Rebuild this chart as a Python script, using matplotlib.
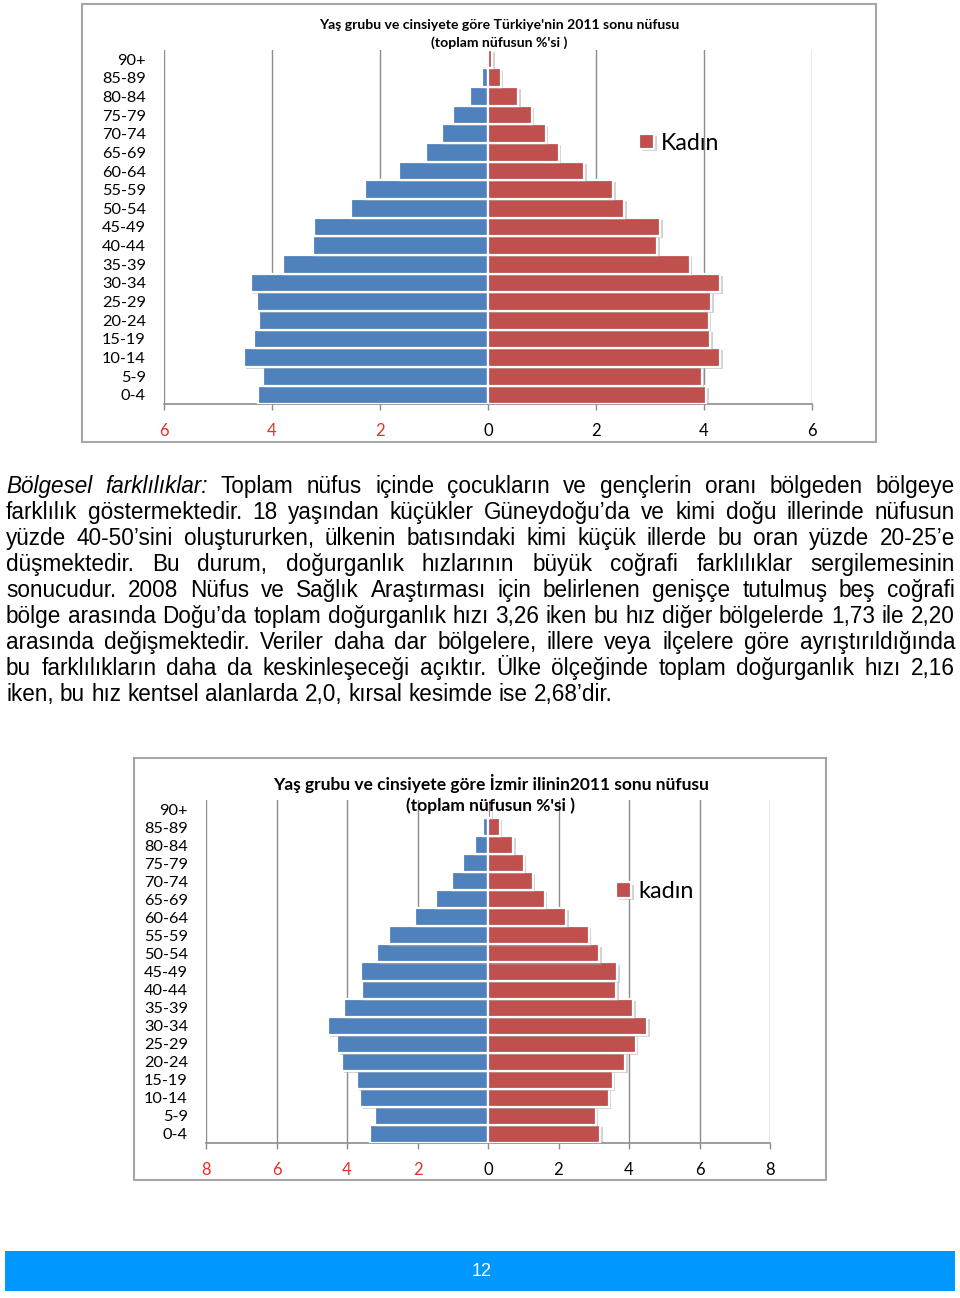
import matplotlib
matplotlib.use("Agg")
import matplotlib.pyplot as plt
import matplotlib.patheffects as pe
from matplotlib.patches import Rectangle

# ---------------- data ----------------
age_groups = ['0-4', '5-9', '10-14', '15-19', '20-24', '25-29', '30-34', '35-39',
              '40-44', '45-49', '50-54', '55-59', '60-64', '65-69', '70-74',
              '75-79', '80-84', '85-89', '90+']

tr_male = [4.26, 4.17, 4.52, 4.33, 4.24, 4.28, 4.39, 3.80, 3.24, 3.22,
           2.54, 2.28, 1.65, 1.15, 0.85, 0.65, 0.33, 0.11, 0.03]
tr_female = [4.04, 3.96, 4.30, 4.12, 4.09, 4.13, 4.30, 3.74, 3.13, 3.19,
             2.52, 2.32, 1.78, 1.31, 1.07, 0.81, 0.56, 0.24, 0.08]

izm_male = [3.34, 3.21, 3.62, 3.72, 4.15, 4.27, 4.55, 4.08, 3.57, 3.59,
            3.14, 2.81, 2.08, 1.48, 1.01, 0.71, 0.38, 0.14, 0.05]
izm_female = [3.18, 3.05, 3.43, 3.54, 3.89, 4.19, 4.52, 4.12, 3.64, 3.67,
              3.16, 2.86, 2.22, 1.61, 1.27, 1.02, 0.71, 0.34, 0.08]

tr_ticks = [-6, -4, -2, 0, 2, 4, 6]
izm_ticks = [-8, -6, -4, -2, 0, 2, 4, 6, 8]

tr_title = "Yaş grubu ve cinsiyete göre Türkiye'nin 2011 sonu nüfusu\n(toplam nüfusun %'si )"
izm_title = "Yaş grubu ve cinsiyete göre İzmir ilinin2011 sonu nüfusu\n(toplam nüfusun %'si )"
tr_legend = "Kadın"
izm_legend = "kadın"

paragraph_lines = [
    "Bölgesel farklılıklar: Toplam nüfus içinde çocukların ve gençlerin oranı bölgeden bölgeye",
    "farklılık göstermektedir. 18 yaşından küçükler Güneydoğu’da ve kimi doğu illerinde nüfusun",
    "yüzde 40-50’sini oluştururken, ülkenin batısındaki kimi küçük illerde bu oran yüzde 20-25’e",
    "düşmektedir. Bu durum, doğurganlık hızlarının büyük coğrafi farklılıklar sergilemesinin",
    "sonucudur. 2008 Nüfus ve Sağlık Araştırması için belirlenen genişçe tutulmuş beş coğrafi",
    "bölge arasında Doğu’da toplam doğurganlık hızı 3,26 iken bu hız diğer bölgelerde 1,73 ile 2,20",
    "arasında değişmektedir.  Veriler daha dar bölgelere, illere veya ilçelere göre ayrıştırıldığında",
    "bu farklılıkların daha da keskinleşeceği açıktır. Ülke ölçeğinde toplam doğurganlık hızı 2,16",
    "iken, bu hız kentsel alanlarda 2,0, kırsal kesimde ise 2,68’dir.",
]
italic_words = 2  # "Bölgesel farklılıklar:"
page_number = "12"

# ---------------- style ----------------
W, H = 960, 1298
BLUE = '#4F81BD'
RED = '#C0504D'
GRID = '#8C8C8C'
NEG_RED = '#E8302A'
CHART_FONT = ['Lato', 'DejaVu Sans']
TEXT_FONT = ['Liberation Sans Narrow', 'Liberation Sans', 'DejaVu Sans']

fig = plt.figure(figsize=(W / 100, H / 100), dpi=100)
fig.patch.set_facecolor('white')


def fx(x):
    return x / W


def fy(y):
    return 1 - y / H


def frame(x0, y0, x1, y1):
    fig.add_artist(Rectangle((fx(x0), fy(y1)), fx(x1) - fx(x0), fy(y0) - fy(y1),
                             transform=fig.transFigure, fill=False,
                             edgecolor='#A6A6A6', linewidth=1.5))


shadow = [pe.SimplePatchShadow(offset=(1.8, -1.5), shadow_rgbFace='#9A9A9A', alpha=0.45),
          pe.Normal()]


def pyramid(rect, male, female, ticks, legend_label, legend_xy, tick_fs, label_fs, legend_fs):
    left, top, right, bottom = rect
    ax = fig.add_axes([fx(left), fy(bottom), fx(right) - fx(left), fy(top) - fy(bottom)])
    y = list(range(len(age_groups)))
    neg_male = [-v for v in male]
    bm = ax.barh(y, neg_male, height=1.0, color=BLUE, edgecolor='white', linewidth=1.6, zorder=3)
    bf = ax.barh(y, female, height=1.0, color=RED, edgecolor='white', linewidth=1.6, zorder=3)
    for p in list(bm) + list(bf):
        p.set_path_effects(shadow)
    ax.set_xlim(ticks[0], ticks[-1])
    ax.set_ylim(-0.5, len(age_groups) - 0.5)
    ax.set_xticks(ticks)
    ax.set_xticklabels([str(abs(t)) for t in ticks], family=CHART_FONT, fontsize=tick_fs)
    for t, lab in zip(ticks, ax.get_xticklabels()):
        lab.set_color(NEG_RED if t < 0 else 'black')
    ax.set_yticks(y)
    ax.set_yticklabels(age_groups, family=CHART_FONT, fontsize=label_fs)
    ax.tick_params(axis='y', length=0, pad=13)
    ax.tick_params(axis='x', length=4, width=1, color=GRID, pad=9.5, direction='out')
    for s in ['top', 'right', 'left']:
        ax.spines[s].set_visible(False)
    ax.spines['bottom'].set_color(GRID)
    ax.spines['bottom'].set_linewidth(1.2)
    ax.grid(axis='x', color=GRID, linewidth=1.0, zorder=0)
    ax.set_axisbelow(True)
    ax.axvline(0, color=GRID, linewidth=1.0, zorder=1)
    ax.legend([bf], [legend_label], loc='center left', bbox_to_anchor=legend_xy,
              frameon=False, handlelength=0.65, handleheight=0.65, handletextpad=0.3,
              borderpad=0, borderaxespad=0,
              prop={'family': CHART_FONT, 'size': legend_fs})
    return ax


# ---------------- top chart ----------------
frame(82, 4, 876, 442)
pyramid((164, 49.7, 812, 404.3), tr_male, tr_female, tr_ticks, tr_legend,
        ((639 - 164) / 648, (404.3 - 143) / 354.6), 12, 11.8, 16.7)
fig.text(fx(499.5), fy(34), tr_title, ha='center', va='center', fontsize=10.05,
         fontweight='bold', family=CHART_FONT, linespacing=1.55)

# ---------------- bottom chart ----------------
frame(134, 758, 826, 1180)
pyramid((206, 800, 770, 1143), izm_male, izm_female, izm_ticks, izm_legend,
        ((616 - 206) / 564, (1143 - 892) / 343), 12, 11.8, 16.9)
fig.text(fx(491), fy(794), izm_title, ha='center', va='center', fontsize=12.55,
         fontweight='bold', family=CHART_FONT, linespacing=1.4)

# ---------------- justified paragraph ----------------
renderer = fig.canvas.get_renderer()
X0, X1 = 6, 955
base0, step = 493, 26


def measure(s, size, style='normal'):
    t = fig.text(0, 0, s, fontsize=size, family=TEXT_FONT, style=style)
    w = t.get_window_extent(renderer).width
    t.remove()
    return w


# fit font size so the last (unjustified) line spans its width in the page
ref = 10.0
fs = ref * (614 - 6) / measure(paragraph_lines[-1], ref)

for i, line in enumerate(paragraph_lines):
    words = line.split()
    styles = ['italic' if (i == 0 and k < italic_words) else 'normal' for k in range(len(words))]
    widths = [measure(w, fs, st) for w, st in zip(words, styles)]
    space = measure('a a', fs) - measure('aa', fs)
    if i < len(paragraph_lines) - 1 and len(words) > 1:
        gap = (X1 - X0 - sum(widths)) / (len(words) - 1)
    else:
        gap = space
    x = X0
    yb = base0 + i * step
    for w, st, wd in zip(words, styles, widths):
        fig.text(fx(x), fy(yb), w, fontsize=fs, family=TEXT_FONT, style=st,
                 ha='left', va='baseline')
        x += wd + gap

# ---------------- footer ----------------
fig.add_artist(Rectangle((fx(5), fy(1291)), fx(955) - fx(5), fy(1251) - fy(1291),
                         transform=fig.transFigure, facecolor='#0098FE', edgecolor='none'))
fig.text(fx(482), fy(1271), page_number, color='white', fontsize=13, family=TEXT_FONT,
         ha='center', va='center')

fig.savefig('out.png', dpi=100, facecolor='white')
